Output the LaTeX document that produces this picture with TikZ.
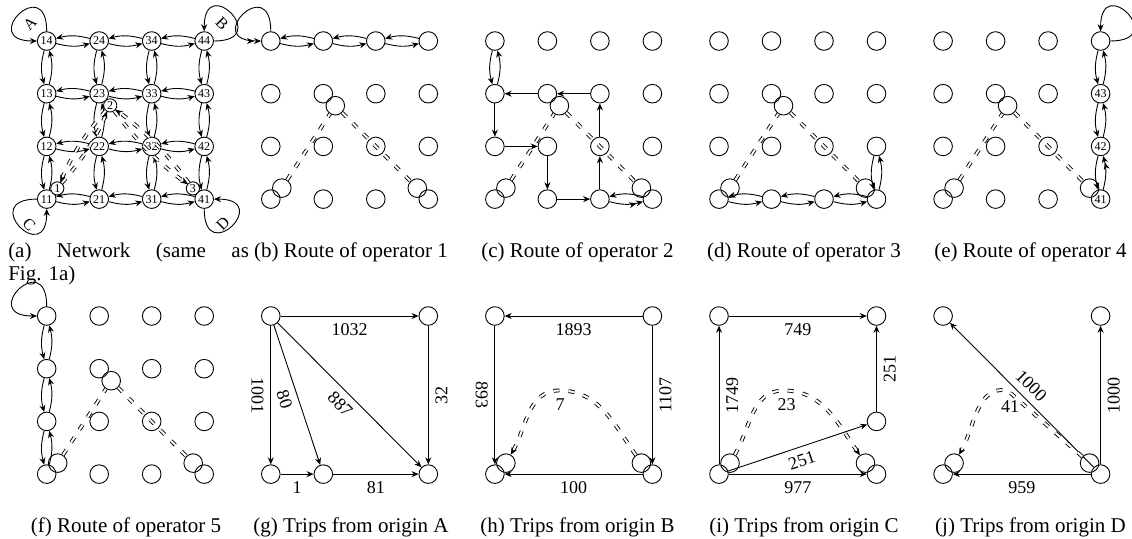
\documentclass[tikz,border=0pt]{standalone}
\usepackage{fontspec}
\setmainfont{Liberation Serif}
\usetikzlibrary{arrows.meta,calc}
\newcommand\mkgrid[4]{%
  \foreach \i in {1,2,3,4}{\foreach \j in {1,2,3,4}{%
    \node[nd] (#1\i\j) at ({#2+52.5*(\i-1)},{#3+52.7*(4-\j)}) {#4};}}}
\newcommand\tw[2]{\draw[rd] (#1) to (#2); \draw[rd] (#2) to (#1);}
\newcommand\transit[1]{%
  \node[nd] (#1c1) at ($(#111)+(11,-11)$) {};
  \node[nd] (#1c2) at ($(#123)+(12,12)$) {};
  \node[nd] (#1c3) at ($(#141)+(-11,-11)$) {};
  \draw[tr] (#1c1) -- (#1c2);
  \draw[tr] (#1c2) -- (#1c3);}
\begin{document}
\begin{tikzpicture}[x=0.5pt,y=-0.5pt,line width=0.45pt,
  >={Stealth[length=3.5pt,width=3pt]},
  nd/.style={circle,draw,minimum size=9.3pt,inner sep=0pt,font=\fontsize{6}{7}\selectfont},
  sm/.style={circle,draw,fill=white,minimum size=6.6pt,inner sep=0pt,font=\fontsize{6}{7}\selectfont},
  hid/.style={circle,minimum size=9.3pt,inner sep=0pt},
  rd/.style={->,bend right=15},
  tr/.style={double,double distance=1pt,dash pattern=on 3pt off 4.5pt},
  lbl/.style={font=\fontsize{9}{10}\selectfont},
  captext/.style={font=\fontsize{10.5}{12}\selectfont,inner sep=0pt},
  ll/.style={font=\fontsize{8}{9}\selectfont,inner sep=0pt},
  lp/.style={->,looseness=11}]
\useasboundingbox (0,0) rectangle (1132,538);
% ---------- (a) network ----------
\mkgrid{a}{46.7}{41}{\i\j}
\foreach \i in {1,2,3,4}{\foreach \j/\k in {1/2,2/3,3/4}{\tw{a\i\j}{a\i\k}\tw{a\j\i}{a\k\i}}}
\draw[lp] (a14) to[out=90,in=180] (a14);
\draw[lp] (a44) to[out=0,in=90] (a44);
\draw[lp] (a11) to[out=180,in=270] (a11);
\draw[lp] (a41) to[out=270,in=0] (a41);
\node[ll,rotate=45] (labA) at (30,23.5) {A};
\node[ll,rotate=-45] (labB) at (222,23.5) {B};
\node[ll,rotate=-45] (labC) at (29,225) {C};
\node[ll,rotate=45] (labD) at (223,224) {D};
\node[sm] (a1) at ($(a11)+(10.6,-10.7)$) {1};
\node[sm] (a2) at ($(a23)+(11,11.7)$) {2};
\node[sm] (a3) at ($(a41)+(-11.3,-10.7)$) {3};
\draw[tr,->] (a1) to[bend right=8] (a2);
\draw[tr,->] (a2) to[bend right=8] (a1);
\draw[tr,->] (a2) to[bend right=8] (a3);
\draw[tr,->] (a3) to[bend right=8] (a2);
% ---------- (b) operator 1 ----------
\mkgrid{b}{270.8}{41}{}
\transit{b}
\tw{b14}{b24}\tw{b24}{b34}\tw{b34}{b44}
\draw[lp,->>] (b14) to[out=90,in=180] (b14);
% ---------- (c) operator 2 ----------
\mkgrid{c}{494.9}{41}{}
\transit{c}
\tw{c14}{c13}
\draw[rd,->>] (c31) to (c41);
\draw[rd] (c41) to (c31);
\draw[->] (c23) -- (c13);
\draw[->] (c33) -- (c23);
\draw[->] (c13) -- (c12);
\draw[->] (c12) -- (c22);
\draw[->] (c22) -- (c21);
\draw[->] (c21) -- (c31);
\draw[->] (c31) -- (c32);
\draw[->] (c32) -- (c33);
% ---------- (d) operator 3 ----------
\mkgrid{d}{719.0}{41}{}
\transit{d}
\tw{d42}{d41}\tw{d41}{d31}\tw{d31}{d21}\tw{d21}{d11}
% ---------- (e) operator 4 ----------
\mkgrid{e}{943.1}{41}{}
\transit{e}
\node[font=\fontsize{6}{7}\selectfont] (e43t) at (e43) {43};
\node[font=\fontsize{6}{7}\selectfont] (e42t) at (e42) {42};
\node[font=\fontsize{6}{7}\selectfont] (e41t) at (e41) {41};
\tw{e44}{e43}\tw{e43}{e42}
\draw[rd] (e42) to (e41);
\draw[rd,->>] (e41) to (e42);
\draw[lp] (e44) to[out=0,in=90] (e44);
% ---------- (f) operator 5 ----------
\mkgrid{f}{46.7}{316}{}
\transit{f}
\tw{f14}{f13}\tw{f13}{f12}\tw{f12}{f11}
\draw[lp] (f14) to[out=90,in=180] (f14);
% ---------- (g) origin A ----------
\node[nd] (g14) at (270.8,316) {};
\node[nd] (g44) at (428.3,316) {};
\node[nd] (g11) at (270.8,474.1) {};
\node[nd] (g21) at (323.3,474.1) {};
\node[nd] (g41) at (428.3,474.1) {};
\draw[->] (g14) -- node[lbl,below] (gl1) {1032} (g44);
\draw[->] (g14) -- node[lbl,rotate=-90,anchor=north] (gl2) {1001} (g11);
\draw[->] (g14) -- node[lbl,sloped,below] (gl3) {80} (g21);
\draw[->] (g14) -- node[lbl,sloped,below] (gl4) {887} (g41);
\draw[->] (g44) -- node[lbl,rotate=90,anchor=north] (gl5) {32} (g41);
\draw[->] (g11) -- node[lbl,below] (gl6) {1} (g21);
\draw[->] (g21) -- node[lbl,below] (gl7) {81} (g41);
% ---------- (h) origin B ----------
\node[nd] (h14) at (494.9,316) {};
\node[nd] (h44) at (652.4,316) {};
\node[nd] (h11) at (494.9,474.1) {};
\node[nd] (h41) at (652.4,474.1) {};
\node[nd] (hc1) at ($(h11)+(11,-11)$) {};
\node[nd] (hc3) at ($(h41)+(-11,-11)$) {};
\node[hid] (hc2) at (559.4,380.7) {};
\draw[->] (h44) -- node[lbl,below] (hl1) {1893} (h14);
\draw[->] (h14) -- node[lbl,rotate=-90,anchor=north] (hl2) {893} (h11);
\draw[->] (h44) -- node[lbl,rotate=90,anchor=north] (hl3) {1107} (h41);
\draw[->] (h41) -- node[lbl,below] (hl4) {100} (h11);
\draw[tr,->] (hc3) to[out=125,in=0] (hc2.south) to[out=180,in=60] (hc1);
\node[lbl] (hl5) at (560,405) {7};
% ---------- (i) origin C ----------
\node[nd] (i14) at (719.0,316) {};
\node[nd] (i44) at (876.5,316) {};
\node[nd] (i11) at (719.0,474.1) {};
\node[nd] (i41) at (876.5,474.1) {};
\node[nd] (i42) at (876.5,421.4) {};
\node[nd] (ic1) at ($(i11)+(11,-11)$) {};
\node[nd] (ic3) at ($(i41)+(-11,-11)$) {};
\node[hid] (ic2) at (783.5,380.7) {};
\draw[->] (i14) -- node[lbl,below] (il1) {749} (i44);
\draw[->] (i11) -- node[lbl,rotate=90,anchor=north] (il2) {1749} (i14);
\draw[->] (i42) -- node[lbl,rotate=90,anchor=north] (il3) {251} (i44);
\draw[->] (i11) -- node[lbl,sloped,below] (il4) {251} (i42);
\draw[->] (i11) -- node[lbl,below] (il5) {977} (i41);
\draw[tr,->] (ic1) to[out=60,in=180] (ic2.south) to[out=0,in=125] (ic3);
\node[lbl] (il6) at (786.7,405) {23};
% ---------- (j) origin D ----------
\node[nd] (j14) at (943.1,316) {};
\node[nd] (j44) at (1100.6,316) {};
\node[nd] (j11) at (943.1,474.1) {};
\node[nd] (j41) at (1100.6,474.1) {};
\node[nd] (jc1) at ($(j11)+(11,-11)$) {};
\node[nd] (jc3) at ($(j41)+(-11,-11)$) {};
\node[hid] (jc2) at (1007.6,380.7) {};
\draw[->] (j41) -- node[lbl,sloped,above] (jl1) {1000} (j14);
\draw[->] (j41) -- node[lbl,rotate=90,anchor=north] (jl2) {1000} (j44);
\draw[->] (j41) -- node[lbl,below] (jl3) {959} (j11);
\draw[tr,->] (jc3) -- (jc2.south) to[out=170,in=60] (jc1);
\node[lbl] (jl4) at (1010,406.7) {41};
% ---------- captions ----------
\node[captext,anchor=base west] (capa) at (7.8,257.5) {\makebox[120.35pt][s]{(a) Network (same as}};
\node[captext,anchor=base west] (capa2) at (7.8,280.5) {Fig. 1a)};
\node[captext,anchor=base] (capb) at (351,257.5) {(b) Route of operator 1};
\node[captext,anchor=base] (capc) at (577.5,257.5) {(c) Route of operator 2};
\node[captext,anchor=base] (capd) at (804,257.5) {(d) Route of operator 3};
\node[captext,anchor=base] (cape) at (1030.5,257.5) {(e) Route of operator 4};
\node[captext,anchor=base] (capf) at (126,532.5) {(f) Route of operator 5};
\node[captext,anchor=base] (capg) at (351,532.5) {(g) Trips from origin A};
\node[captext,anchor=base] (caph) at (577.5,532.5) {(h) Trips from origin B};
\node[captext,anchor=base] (capi) at (804,532.5) {(i) Trips from origin C};
\node[captext,anchor=base] (capj) at (1030.5,532.5) {(j) Trips from origin D};
\end{tikzpicture}
\end{document}
